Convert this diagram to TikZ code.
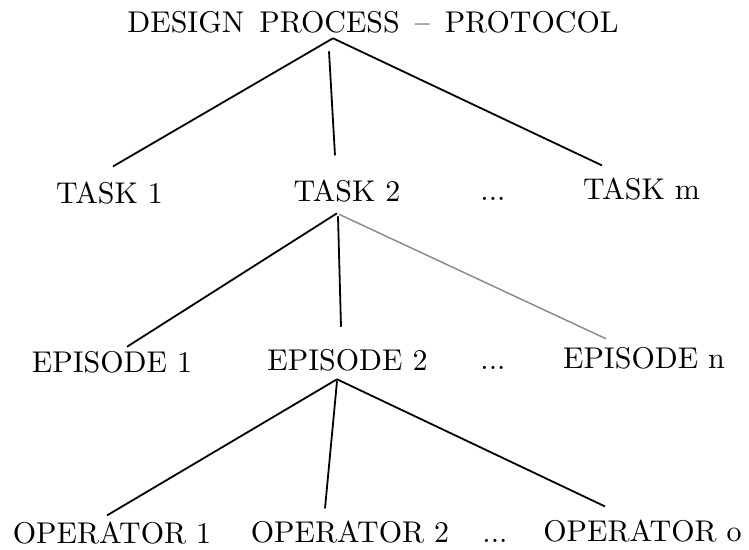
\documentclass[tikz,border=0pt]{standalone}
\usetikzlibrary{calc}
\tikzset{
    term/.style={anchor=base,inner sep=0pt},
    branch/.style={line width=0.6pt},
    faint/.style={line width=0.5pt,black!45},
}
\begin{document}
\begin{tikzpicture}[x=0.3333pt,y=-0.3333pt]
        \useasboundingbox (0,0) rectangle (749,549);
        %% Levels
        \node[term] (DP) at (373,32) {\spaceskip=5pt DESIGN PROCESS -- PROTOCOL};
        \node[term] (T1) at (109.5,203) {TASK 1};
        \node[term] (T2) at (347,201) {TASK 2};
        \node[term] (Tdots) at (493,200) {...};
        \node[term] (Tm) at (641.5,199) {TASK m};
        \node[term] (E1) at (112,372) {EPISODE 1};
        \node[term] (E2) at (347.5,370) {EPISODE 2};
        \node[term] (Edots) at (493,369) {...};
        \node[term] (En) at (644,368) {EPISODE n};
        \node[term] (O1) at (112,543) {OPERATOR 1};
        \node[term] (O2) at (350,542) {OPERATOR 2};
        \node[term] (Odots) at (495,542) {...};
        \node[term] (Oo) at (642.5,541) {OPERATOR o};
        %% Feet
        \coordinate (DPfoot) at ($(DP.south)+(-40,5)$);
        \coordinate (T2foot) at ($(T2.south)+(-10,11)$);
        \coordinate (E2foot) at ($(E2.south)+(-10.5,8)$);
        %% Branches
        \draw[branch] (DPfoot) -- ($(T1.north)+(3.5,-14.5)$);
        \draw[branch] ($(DP.south)+(-44,18)$) -- ($(T2.north)+(-12,-23.5)$);
        \draw[branch] (DPfoot) -- ($(Tm.north)+(-39.5,-11.5)$);
        \draw[branch] (T2foot) -- ($(E1.north)+(15,-3.5)$);
        \draw[branch] ($(T2foot)+(1,3)$) -- ($(E2.north)+(-6.5,-21.5)$);
        \draw[faint] ($(T2foot)+(2,1)$) -- ($(En.north)+(-38,-7.5)$);
        \draw[branch] (E2foot) -- ($(O1.north)+(-5,-5.5)$);
        \draw[branch] ($(E2foot)+(0,2)$) -- ($(O2.north)+(-25,-11.5)$);
        \draw[branch] (E2foot) -- ($(Oo.north)+(-37.5,-12.5)$);
\end{tikzpicture}
\end{document}
